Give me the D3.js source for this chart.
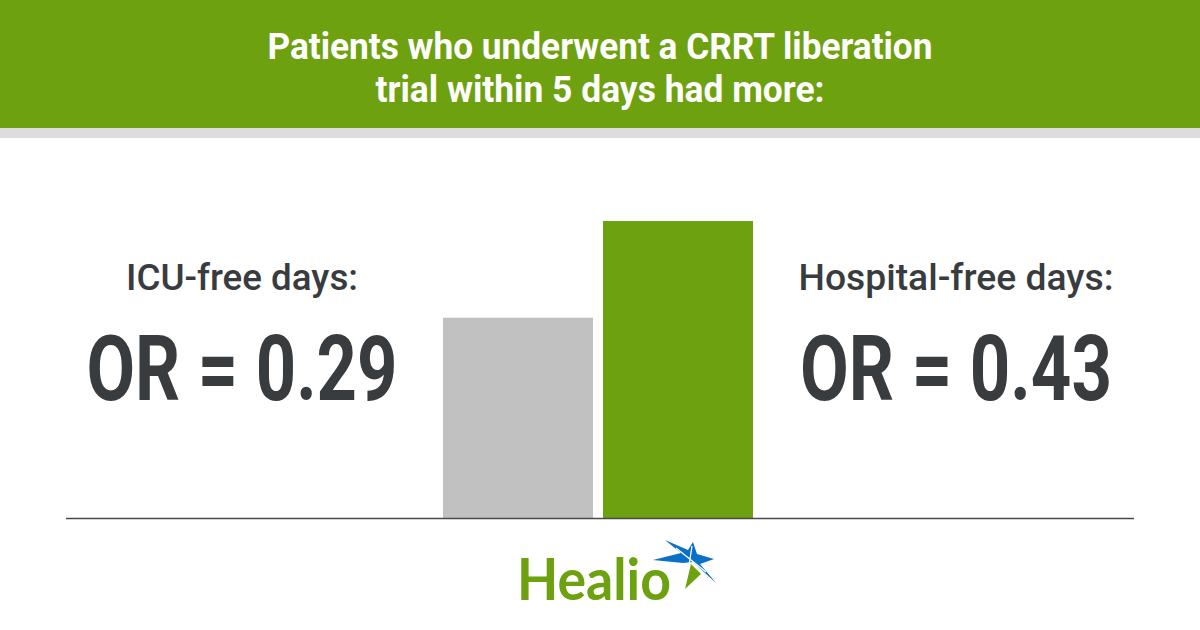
<!DOCTYPE html>
<html>
<head>
<meta charset="utf-8">
<script src="https://cdn.jsdelivr.net/npm/d3@7"></script>
<style>
  body { margin: 0; background: #fff; }
  svg { display: block; }
</style>
</head>
<body>
<svg id="chart"></svg>
<script>
// data
const titleLines = ["Patients who underwent a CRRT liberation", "trial within 5 days had more:"];
const categories = ["ICU-free days:", "Hospital-free days:"];
const oddsRatios = [0.29, 0.43];
const barColors = ["#c1c1c1", "#6ea10f"];

const width = 1200;
const height = 630;
const green = "#6ea10f";
const ink = "#393c3f";

const svg = d3.select("#chart")
  .attr("width", width)
  .attr("height", height);

// header band
svg.append("rect")
  .attr("x", 0).attr("y", 0)
  .attr("width", width).attr("height", 128)
  .attr("fill", green);

svg.append("rect")
  .attr("x", 0).attr("y", 128)
  .attr("width", width).attr("height", 10)
  .attr("fill", "#dddddd");

const titleWidths = [665, 449];
titleLines.forEach((t, i) => {
  svg.append("text")
    .attr("x", width / 2)
    .attr("y", 59 + i * 43)
    .attr("text-anchor", "middle")
    .attr("textLength", titleWidths[i])
    .attr("lengthAdjust", "spacingAndGlyphs")
    .style("font-family", "Roboto, sans-serif")
    .style("font-weight", 700)
    .style("font-size", "37px")
    .attr("fill", "#fff")
    .text(t);
});

// bars
const baseline = 518;

const x = d3.scaleBand()
  .domain(categories)
  .range([443, 753])
  .paddingInner(0.0625)
  .paddingOuter(0);

const y = d3.scaleLinear()
  .domain([0, d3.max(oddsRatios)])
  .range([baseline, 221]);

svg.append("g")
  .selectAll("rect")
  .data(categories)
  .join("rect")
  .attr("x", d => x(d))
  .attr("y", (d, i) => y(oddsRatios[i]))
  .attr("width", x.bandwidth())
  .attr("height", (d, i) => baseline - y(oddsRatios[i]))
  .attr("fill", (d, i) => barColors[i]);

svg.append("line")
  .attr("x1", 66).attr("x2", 1134)
  .attr("y1", baseline + 0.5).attr("y2", baseline + 0.5)
  .attr("stroke", "#4a4a4a")
  .attr("stroke-width", 1.5);

// side labels
const labelX = [242, 956];
const labelWidths = [232, 315];
const valueWidths = [311, 312];

categories.forEach((c, i) => {
  svg.append("text")
    .attr("x", labelX[i])
    .attr("y", 290)
    .attr("text-anchor", "middle")
    .attr("textLength", labelWidths[i])
    .attr("lengthAdjust", "spacingAndGlyphs")
    .style("font-family", "Roboto, sans-serif")
    .style("font-weight", 500)
    .style("font-size", "36px")
    .attr("fill", ink)
    .text(c);

  svg.append("text")
    .attr("x", labelX[i])
    .attr("y", 400)
    .attr("text-anchor", "middle")
    .attr("textLength", valueWidths[i])
    .attr("lengthAdjust", "spacingAndGlyphs")
    .style("font-family", "Roboto, sans-serif")
    .style("font-weight", 700)
    .style("font-size", "91px")
    .attr("fill", ink)
    .text("OR = " + d3.format(".2f")(oddsRatios[i]));
});

// Healio logo
const logo = svg.append("g");

logo.append("text")
  .attr("x", 517)
  .attr("y", 600)
  .attr("textLength", 154)
  .attr("lengthAdjust", "spacingAndGlyphs")
  .style("font-family", "Lato, sans-serif")
  .style("font-weight", 700)
  .style("font-size", "58px")
  .attr("fill", green)
  .text("Healio");

const star = [
  [653, 560], [681, 553], [665, 540], [688, 550], [693, 542],
  [697, 554], [714, 559], [700, 564], [716, 583], [693, 562], [683, 563]
];
logo.append("path")
  .attr("d", d3.line()(star) + "Z")
  .attr("fill", "#0a6fc6");

logo.append("path")
  .attr("d", d3.line()([[691, 564], [685, 589], [701, 574]]) + "Z")
  .attr("fill", green);

logo.append("path")
  .attr("d", "M676,548L706,572M692,546L688,572")
  .attr("stroke", "#fff")
  .attr("stroke-width", 1.3);
</script>
</body>
</html>
